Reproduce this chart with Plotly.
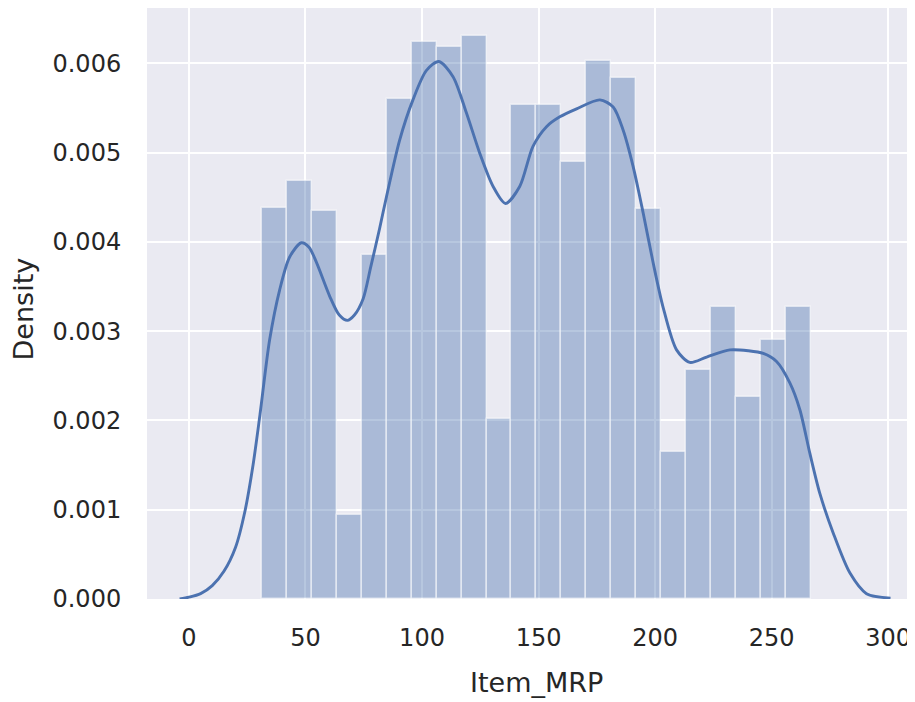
import numpy as np
import plotly.graph_objects as go

# ---- data ----
mrp_min = 31.29
mrp_max = 266.89
n_bins = 22
hist_density = [0.004376, 0.00468, 0.004345, 0.00094, 0.00385, 0.00560, 0.00624,
                0.00618, 0.00630, 0.002016, 0.005535, 0.005535, 0.00489, 0.006025,
                0.00584, 0.00437, 0.001646, 0.002568, 0.003273, 0.002262, 0.002904,
                0.003273]

kde_x = [-4, 0, 5, 10, 15, 20, 24, 27.5, 30.5, 34.6, 38.9, 43.2, 48.2, 51.5, 54.7,
         60.4, 64.5, 68, 71, 74.7, 78, 81.8, 84.7, 90.4, 96.1, 101.9, 107.2, 113.3,
         119.1, 124.8, 130.5, 135.8, 141.9, 147.6, 153.4, 159.1, 166.3, 176.3, 182,
         186.3, 190.6, 194.9, 199.2, 203.4, 209.2, 214.9, 222.1, 232.1, 240, 246.4,
         252.1, 257.8, 262.1, 266.4, 270.7, 276.4, 283.6, 290.7, 301]
kde_y = [0.0, 0.00002, 0.00006, 0.00015, 0.00031, 0.00058, 0.00098, 0.0015, 0.00207,
         0.0029, 0.00346, 0.00383, 0.00399, 0.00394, 0.00377, 0.00339, 0.00318, 0.00312,
         0.00318, 0.00336, 0.00372, 0.00415, 0.0045, 0.00514, 0.00559, 0.00592, 0.00602,
         0.00585, 0.00544, 0.00499, 0.00462, 0.00443, 0.00462, 0.00507, 0.00529, 0.0054,
         0.00549, 0.00559, 0.00551, 0.00525, 0.00484, 0.00432, 0.00376, 0.00327, 0.00279,
         0.00265, 0.00271, 0.00279, 0.00278, 0.00275, 0.00266, 0.00242, 0.00212, 0.00163,
         0.00118, 0.00074, 0.00029, 0.00006, 0.00001]

x_ticks = [0, 50, 100, 150, 200, 250, 300]
y_ticks = [0.000, 0.001, 0.002, 0.003, 0.004, 0.005, 0.006]

edges = np.linspace(mrp_min, mrp_max, n_bins + 1)
centers = (edges[:-1] + edges[1:]) / 2
bw = edges[1] - edges[0]

blue = "#4c72b0"
text_col = "#262626"
font_fam = "DejaVu Sans"

fig = go.Figure()
fig.add_trace(go.Bar(
    x=centers, y=hist_density, width=bw,
    marker=dict(color="rgba(76,114,176,0.4)",
                line=dict(color="rgba(255,255,255,0.55)", width=1.5)),
    hoverinfo="skip", showlegend=False,
))
fig.add_trace(go.Scatter(
    x=kde_x, y=kde_y, mode="lines",
    line=dict(color=blue, width=2.9, shape="spline", smoothing=0.8),
    showlegend=False,
))

# page body has an 8px margin, so the figure is sized to end at the window edge
fig.update_layout(
    width=907, height=694,
    margin=dict(l=139, r=0, t=0, b=103),
    paper_bgcolor="white", plot_bgcolor="#eaeaf2",
    bargap=0,
    font=dict(family=font_fam, color=text_col),
    xaxis=dict(range=[-18.0, 311.5], tickvals=x_ticks, showgrid=True,
               gridcolor="white", gridwidth=2, zeroline=False, showline=False,
               ticks="outside", ticklen=17, tickcolor="rgba(0,0,0,0)",
               tickfont=dict(size=24, color=text_col, family=font_fam)),
    yaxis=dict(range=[0, 0.006619], tickvals=y_ticks, tickformat=".3f",
               showgrid=True, gridcolor="white", gridwidth=2, zeroline=False,
               showline=False, ticks="outside", ticklen=20,
               tickcolor="rgba(0,0,0,0)",
               tickfont=dict(size=24, color=text_col, family=font_fam)),
    annotations=[
        dict(text="Item_MRP", xref="paper", yref="paper", x=0.507, y=-0.142,
             xanchor="center", yanchor="middle", showarrow=False,
             font=dict(size=27, color=text_col, family=font_fam)),
        dict(text="Density", xref="paper", yref="paper", x=-0.1614, y=0.49,
             xanchor="center", yanchor="middle", textangle=-90, showarrow=False,
             font=dict(size=27, color=text_col, family=font_fam)),
    ],
)

fig.write_html("out.html")
